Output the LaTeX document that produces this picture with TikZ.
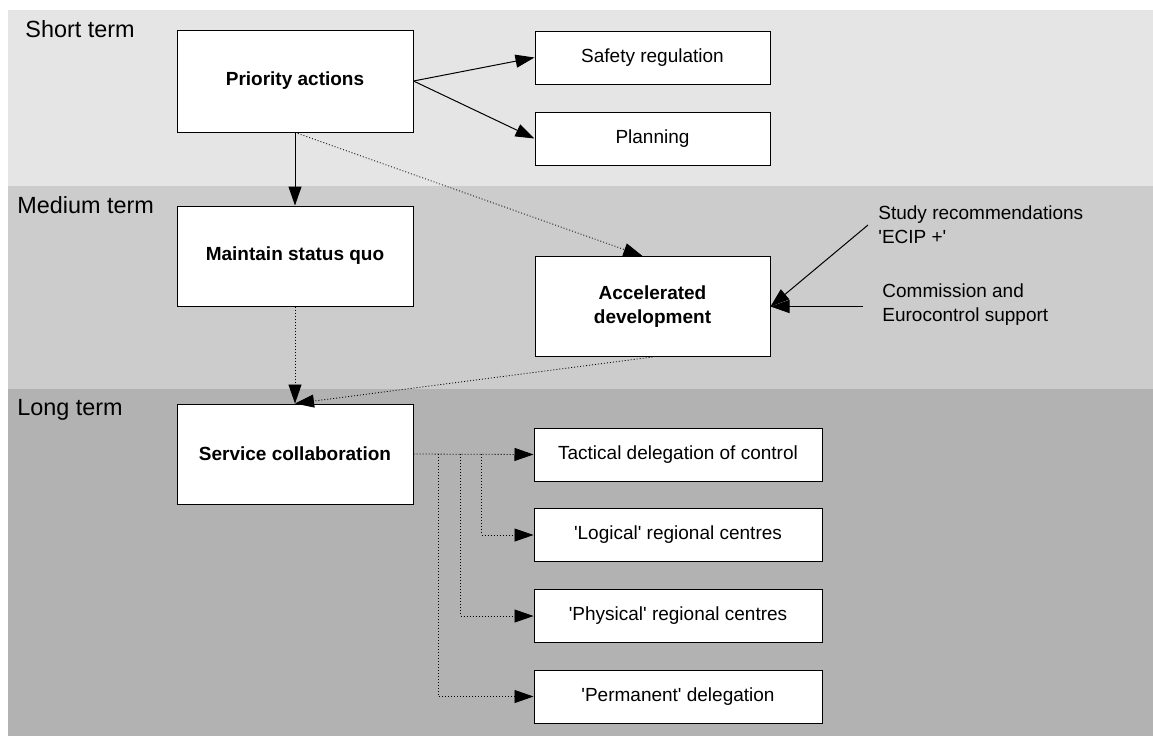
\documentclass[tikz,border=0pt]{standalone}
\usepackage{fontspec}
\newfontfamily\arialish{Liberation Sans}
\usetikzlibrary{arrows.meta}
\definecolor{shortband}{gray}{0.90}
\definecolor{midband}{gray}{0.80}
\definecolor{longband}{gray}{0.70}

\begin{document}
\begin{tikzpicture}[x=0.5pt,y=-0.5pt,
      font=\arialish\fontsize{9.5}{12}\selectfont,
      box/.style={draw=black,line width=0.5pt,fill=white,inner sep=0pt,align=center},
      tallbox/.style={box,minimum width=118pt,minimum height=50pt,
            font=\arialish\fontsize{9.5}{12}\selectfont\bfseries},
      widebox/.style={box,minimum width=117.5pt,minimum height=26.5pt},
      longbox/.style={box,minimum width=144pt,minimum height=26.5pt},
      term/.style={inner sep=0pt,anchor=base west,
            font=\arialish\fontsize{11.7}{14}\selectfont},
      note/.style={inner sep=0pt,anchor=west,align=left},
      arr/.style={line width=0.5pt,-{Triangle[length=9.5pt,width=6.5pt]}},
      dotarr/.style={arr,densely dotted,line width=0.4pt}]
      \useasboundingbox (0,0) rectangle (1153,736);
      \fill[white] (0,0) rectangle (1153,736);

      % time bands
      \fill[shortband] (8,10) rectangle (1153,186);
      \fill[midband] (8,186) rectangle (1153,389);
      \fill[longband] (8,389) rectangle (1153,736);
      \node[term] (short) at (25,37) {Short term};
      \node[term] (medium) at (17,213) {Medium term};
      \node[term] (long) at (17,415) {Long term};

      % short term
      \node[tallbox,minimum height=51pt] (pri) at (295,81) {Priority actions};
      \node[widebox] (saf) at (652.5,57.5) {Safety regulation};
      \node[widebox] (pla) at (652.5,138.5) {Planning};

      % medium term
      \node[tallbox] (msq) at (295,256) {Maintain status quo};
      \node[tallbox,minimum width=117.5pt] (acc) at (652.5,306.5)
            {Accelerated\\development};
      \node[note] (study) at (878,225) {Study recommendations\\'ECIP +'};
      \node[note] (comm) at (882,305) {Commission and\\Eurocontrol support};
      \coordinate (studyin) at (868,225);
      \coordinate (commin) at (863,306.5);

      % long term
      \node[tallbox] (svc) at (295,454) {Service collaboration};
      \node[longbox] (tac) at (678,454.5) {Tactical delegation of control};
      \node[longbox] (log) at (678,535) {'Logical' regional centres};
      \node[longbox] (phy) at (678,616) {'Physical' regional centres};
      \node[longbox] (per) at (678,696.5) {'Permanent' delegation};

      \draw[arr] (pri.east) -- (saf.west);
      \draw[arr] (pri.east) -- (pla.west);
      \draw[arr] (pri.south) -- (msq.north);
      \draw[dotarr] (pri.south) -- ([xshift=-5pt]acc.north);
      \draw[dotarr] (msq.south) -- (svc.north);
      \draw[dotarr] (acc.south) -- (svc.north);
      \draw[arr] (studyin) -- (acc.east);
      \draw[arr] (commin) -- (acc.east);

      \draw[dotarr] (svc.east) -- (tac.west);
      \draw[dotarr] (svc.east) ++(68,0) |- (log.west);
      \draw[dotarr] (svc.east) ++(47,0) |- (phy.west);
      \draw[dotarr] (svc.east) ++(25,0) |- (per.west);
\end{tikzpicture}
\end{document}
